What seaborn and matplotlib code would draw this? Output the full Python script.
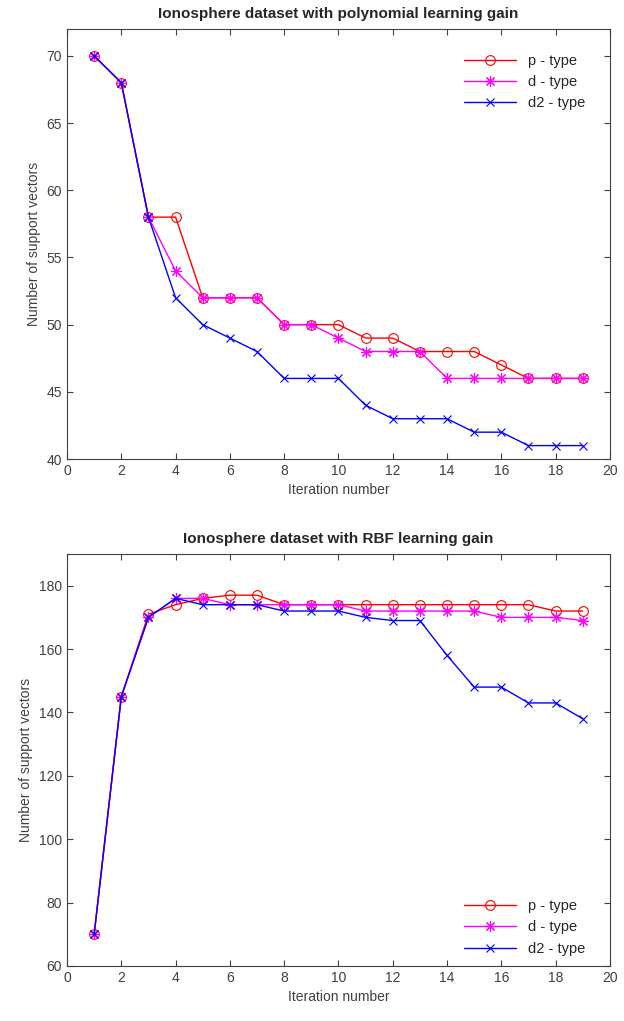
import numpy as np
import pandas as pd
import matplotlib
matplotlib.use('Agg')
import matplotlib.pyplot as plt
import seaborn as sns

# ── 데이터 ──
iterations = list(range(1, 20))

poly_p = [70, 68, 58, 58, 52, 52, 52, 50, 50, 50, 49, 49, 48, 48, 48, 47, 46, 46, 46]
poly_d = [70, 68, 58, 54, 52, 52, 52, 50, 50, 49, 48, 48, 48, 46, 46, 46, 46, 46, 46]
poly_d2 = [70, 68, 58, 52, 50, 49, 48, 46, 46, 46, 44, 43, 43, 43, 42, 42, 41, 41, 41]

rbf_p = [70, 145, 171, 174, 176, 177, 177, 174, 174, 174, 174, 174, 174, 174, 174, 174, 174, 172, 172]
rbf_d = [70, 145, 170, 176, 176, 174, 174, 174, 174, 174, 172, 172, 172, 172, 172, 170, 170, 170, 169]
rbf_d2 = [70, 145, 170, 176, 174, 174, 174, 172, 172, 172, 170, 169, 169, 158, 148, 148, 143, 143, 138]

labels = ['p - type', 'd - type', 'd2 - type']
titles = ['Ionosphere dataset with polynomial learning gain',
          'Ionosphere dataset with RBF learning gain']

sns.set_style('ticks')
plt.rcParams['font.family'] = ['Liberation Sans', 'DejaVu Sans']

# MATLAB 스타일 마커 (o, *, x)
styles = [
    dict(color='#ff0000', marker='o', markerfacecolor='none',
         markeredgecolor='#ff0000', markersize=7),
    dict(color='#ff00ff', marker=(8, 2, 0), markeredgecolor='#ff00ff',
         markersize=8),
    dict(color='#0000ff', marker='x', markeredgecolor='#0000ff',
         markersize=6),
]


def draw_panel(ax, series, title, ylim, yticks, legend_kw):
    for vals, lab, st in zip(series, labels, styles):
        sns.lineplot(x=iterations, y=vals, label=lab, ax=ax,
                     linewidth=1.0, markeredgewidth=0.8, **st)
    ax.set_xlim(0, 20)
    ax.set_xticks(range(0, 21, 2))
    ax.set_ylim(*ylim)
    ax.set_yticks(yticks)
    ax.set_title(title, fontsize=11, fontweight='bold', pad=8)
    ax.set_xlabel('Iteration number', fontsize=10, color='#404040')
    ax.set_ylabel('Number of support vectors', fontsize=10, color='#404040')
    ax.tick_params(direction='in', top=True, right=True, length=4,
                   labelsize=10, colors='#404040')
    for s in ax.spines.values():
        s.set_visible(True)
        s.set_color('#404040')
        s.set_linewidth(0.8)
    ax.legend(frameon=False, fontsize=10.5, handlelength=3.6,
              labelspacing=0.5, **legend_kw)


fig = plt.figure(figsize=(6.24, 10.21), dpi=100)
ax1 = fig.add_axes([0.1074, 0.5504, 0.870, 0.4212])
ax2 = fig.add_axes([0.1074, 0.0539, 0.870, 0.4035])

draw_panel(ax1, [poly_p, poly_d, poly_d2], titles[0], (40, 72),
           range(40, 71, 5), dict(loc='upper right', borderaxespad=1.3))
# 아래 패널 범례는 축 바닥에 더 가깝게
draw_panel(ax2, [rbf_p, rbf_d, rbf_d2], titles[1], (60, 190),
           range(60, 181, 20),
           dict(loc='lower right', bbox_to_anchor=(0.973, 0.0),
                borderaxespad=0.3))

fig.savefig('out.png', dpi=100)
